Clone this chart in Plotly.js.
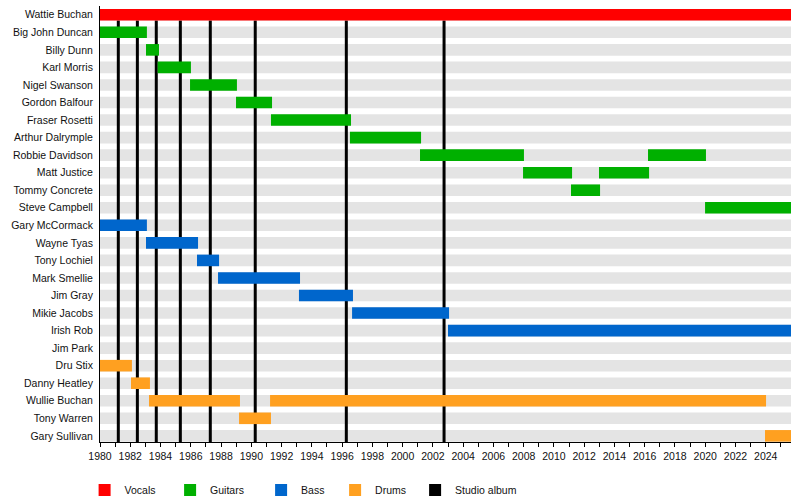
<!DOCTYPE html>
<html>
<head>
<meta charset="utf-8">
<script src="https://cdn.plot.ly/plotly-3.0.1.min.js"></script>
<style>html,body{margin:0;padding:0;background:#fff;}#chart{width:800px;height:500px;}</style>
</head>
<body>
<div id="chart"></div>
<script>
const END = 2025.67;
const members = ['Wattie Buchan','Big John Duncan','Billy Dunn','Karl Morris','Nigel Swanson','Gordon Balfour','Fraser Rosetti','Arthur Dalrymple','Robbie Davidson','Matt Justice','Tommy Concrete','Steve Campbell','Gary McCormack','Wayne Tyas','Tony Lochiel','Mark Smellie','Jim Gray','Mikie Jacobs','Irish Rob','Jim Park','Dru Stix','Danny Heatley','Wullie Buchan','Tony Warren','Gary Sullivan'];

const vocalsMembers = ['Wattie Buchan'];
const vocalsStart = [1980];
const vocalsEnd = [END];

const guitarMembers = ['Big John Duncan','Billy Dunn','Karl Morris','Nigel Swanson','Gordon Balfour','Fraser Rosetti','Arthur Dalrymple','Robbie Davidson','Matt Justice','Tommy Concrete','Matt Justice','Robbie Davidson','Steve Campbell'];
const guitarStart = [1980, 1983.04, 1983.81, 1985.95, 1988.99, 1991.3, 1996.52, 2001.15, 2007.96, 2011.13, 2012.98, 2016.22, 2019.99];
const guitarEnd = [1983.1, 1983.9, 1986.01, 1989.05, 1991.37, 1996.59, 2001.22, 2008.02, 2011.2, 2013.05, 2016.29, 2020.05, END];

const bassMembers = ['Gary McCormack','Wayne Tyas','Tony Lochiel','Mark Smellie','Jim Gray','Mikie Jacobs','Irish Rob'];
const bassStart = [1980, 1983.04, 1986.41, 1987.8, 1993.15, 1996.66, 2003.0];
const bassEnd = [1983.1, 1986.48, 1987.87, 1993.22, 1996.72, 2003.07, END];

const drumsMembers = ['Dru Stix','Danny Heatley','Wullie Buchan','Tony Warren','Wullie Buchan','Gary Sullivan'];
const drumsStart = [1980, 1982.05, 1983.24, 1989.19, 1991.24, 2023.95];
const drumsEnd = [1982.11, 1983.3, 1989.25, 1991.3, 2024.02, END];

const albums = [1981.21, 1982.47, 1983.72, 1985.31, 1987.29, 1990.26, 1996.28, 2002.74];

const legendNames = ['Vocals', 'Guitars', 'Bass', 'Drums', 'Studio album'];
const legendColors = ['#ff0000', '#00b000', '#0066cc', '#ffa020', '#000000'];
const legendIds = ['legend', 'legend2', 'legend3', 'legend4', 'legend5'];
const legendLeftPx = [84.6, 170.1, 261.1, 335.1, 415.1];

const BAR_W = 0.66;

function barTrace(k, ys, starts, ends) {
  return {
    type: 'bar', orientation: 'h', name: legendNames[k], legend: legendIds[k],
    y: ys, base: starts, x: ends.map((e, i) => e - starts[i]),
    marker: {color: legendColors[k], line: {width: 0}},
    width: BAR_W, hoverinfo: 'skip'
  };
}

const traces = [
  barTrace(0, vocalsMembers, vocalsStart, vocalsEnd),
  barTrace(1, guitarMembers, guitarStart, guitarEnd),
  barTrace(2, bassMembers, bassStart, bassEnd),
  barTrace(3, drumsMembers, drumsStart, drumsEnd),
  {type: 'bar', orientation: 'h', name: legendNames[4], legend: legendIds[4],
   y: [null], x: [null], marker: {color: legendColors[4]}, hoverinfo: 'skip'}
];

const shapes = [];
members.forEach((m, i) => {
  shapes.push({type: 'rect', layer: 'below', xref: 'x', yref: 'y',
    x0: 1980, x1: END, y0: i - BAR_W / 2, y1: i + BAR_W / 2,
    fillcolor: '#e4e4e4', line: {width: 0}});
});
albums.forEach(a => {
  shapes.push({type: 'line', layer: 'below', xref: 'x', yref: 'y',
    x0: a, x1: a, y0: BAR_W / 2, y1: members.length - 1 + BAR_W / 2 + 0.02,
    line: {color: '#000000', width: 3}});
});

const layout = {
  width: 800, height: 500,
  margin: {l: 100, r: 9, t: 6, b: 58},
  paper_bgcolor: '#ffffff', plot_bgcolor: '#ffffff',
  font: {family: 'Liberation Sans, Arial, sans-serif', size: 10.5, color: '#111'},
  barmode: 'overlay',
  showlegend: true,
  hovermode: false,
  xaxis: {
    range: [1980, END], showgrid: false, zeroline: false,
    showline: true, linecolor: '#000', linewidth: 1,
    tickmode: 'linear', tick0: 1980, dtick: 2,
    ticks: 'outside', ticklen: 4, tickcolor: '#000', tickwidth: 1,
    minor: {dtick: 1, tick0: 1980, ticks: 'outside', ticklen: 4, tickcolor: '#000', showgrid: false},
    tickfont: {size: 10.5, color: '#111'}
  },
  yaxis: {
    type: 'category', categoryorder: 'array', categoryarray: members,
    range: [members.length - 1 + BAR_W / 2 + 0.02, -0.5],
    showgrid: false, zeroline: false,
    showline: true, linecolor: '#000', linewidth: 1,
    ticks: '', ticklabelstandoff: 4,
    tickfont: {size: 10.5, color: '#111'}
  },
  shapes: shapes
};

legendIds.forEach((id, k) => {
  layout[id] = {
    orientation: 'h',
    xref: 'container', x: legendLeftPx[k] / 800, xanchor: 'left',
    yref: 'container', y: 0.02, yanchor: 'middle',
    font: {size: 10.5, color: '#111'},
    bgcolor: 'rgba(0,0,0,0)'
  };
});

Plotly.newPlot('chart', traces, layout, {displayModeBar: false, staticPlot: true});
</script>
</body>
</html>
